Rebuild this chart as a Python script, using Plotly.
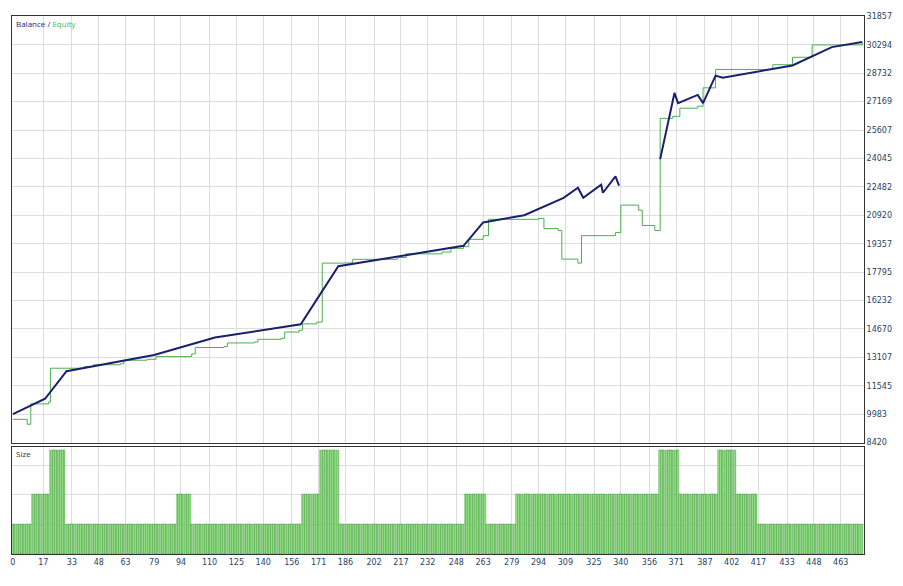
import plotly.graph_objects as go
from plotly.subplots import make_subplots

bal_x = [0,18,30,79,113,161,182,252,263,286,308,316,319,329,330,337,339,None,362,370,372,383,386,393,397,436,458,475]
bal_y = [9990,10830,12345,13240,14195,14925,18120,19240,20530,20925,21880,22440,21880,22605,22160,23055,22550,None,24010,27650,27090,27540,27090,28600,28490,29160,30170,30450]

eq_x = [0,8,10,20,21,40,45,60,62,75,80,100,102,118,120,135,137,150,152,160,162,170,173,185,190,215,220,240,245,252,255,263,266,294,297,305,307,316,318,337,340,350,352,359,362,369,373,383,386,393,406,425,436,447,475]
eq_y = [9700,9430,10550,10650,12510,12600,12700,12750,12950,13000,13150,13300,13650,13700,13900,13950,14100,14150,14500,14600,14950,15050,18290,18300,18500,18600,18800,18900,19100,19200,19600,19800,20700,20750,20190,20080,18510,18290,19800,19970,21480,21200,20360,20080,26250,26360,26810,26920,27930,28940,28940,29200,29610,30290,30450]

seg_start = [0,11,21,30,92,100,162,172,183,253,265,282,362,373,395,405,417]
seg_end   = [11,21,30,92,100,162,172,183,253,265,282,362,373,395,405,417,476]
seg_size  = [1,2,3.5,1,2,1,2,3.5,1,2,1,2,3.5,2,3.5,2,1]

size_x, size_y = [], []
for s, e, v in zip(seg_start, seg_end, seg_size):
    for i in range(s, e):
        size_x.append(i); size_y.append(v)

y_ticks = [8420,9983,11545,13107,14670,16232,17795,19357,20920,22482,24045,25607,27169,28732,30294,31857]
x_ticks = [0,17,33,48,63,79,94,110,125,140,156,171,186,202,217,232,248,263,279,294,309,325,340,356,371,387,402,417,433,448,463]

fig = make_subplots(rows=2, cols=1, shared_xaxes=True, row_heights=[0.8, 0.2], vertical_spacing=0.008)
fig.add_trace(go.Scatter(x=eq_x, y=eq_y, mode='lines', line=dict(color='#4caf50', width=1, shape='hv'), name='Equity'), 1, 1)
fig.add_trace(go.Scatter(x=bal_x, y=bal_y, mode='lines', line=dict(color='#1a1f6e', width=2), name='Balance', connectgaps=False), 1, 1)
fig.add_trace(go.Bar(x=size_x, y=size_y, marker=dict(color='#9be88a', line=dict(color='#3f9a3a', width=0.5)), width=0.8, name='Size'), 2, 1)

ax = dict(showgrid=True, gridcolor='#dddddd', showline=True, linecolor='#333', mirror=True, zeroline=False)
fig.update_xaxes(range=[-0.5, 476], tickvals=x_ticks, **ax, tickfont=dict(size=8, family='DejaVu Sans'))
fig.update_xaxes(showticklabels=False, row=1, col=1)
fig.update_yaxes(side='right', range=[8400, 31880], tickvals=y_ticks, tickformat='d', tickfont=dict(size=8, family='DejaVu Sans'), row=1, col=1, **ax)
fig.update_yaxes(side='right', range=[0, 3.6], showticklabels=False, row=2, col=1, **ax)
fig.add_annotation(text="Balance / <span style='color:#4caf50'>Equity</span>", xref='paper', yref='paper', x=0.002, y=1.0, xanchor='left', yanchor='top', showarrow=False, font=dict(size=8, color='#1a1f6e'))
fig.add_annotation(text="Size", xref='paper', yref='paper', x=0.002, y=0.2, xanchor='left', yanchor='top', showarrow=False, font=dict(size=8, color='#333'))
fig.update_layout(width=903, height=586, margin=dict(l=4, r=47, t=8, b=40, autoexpand=False), plot_bgcolor='white', paper_bgcolor='white', showlegend=False, bargap=0)
fig.write_html("out.html")
